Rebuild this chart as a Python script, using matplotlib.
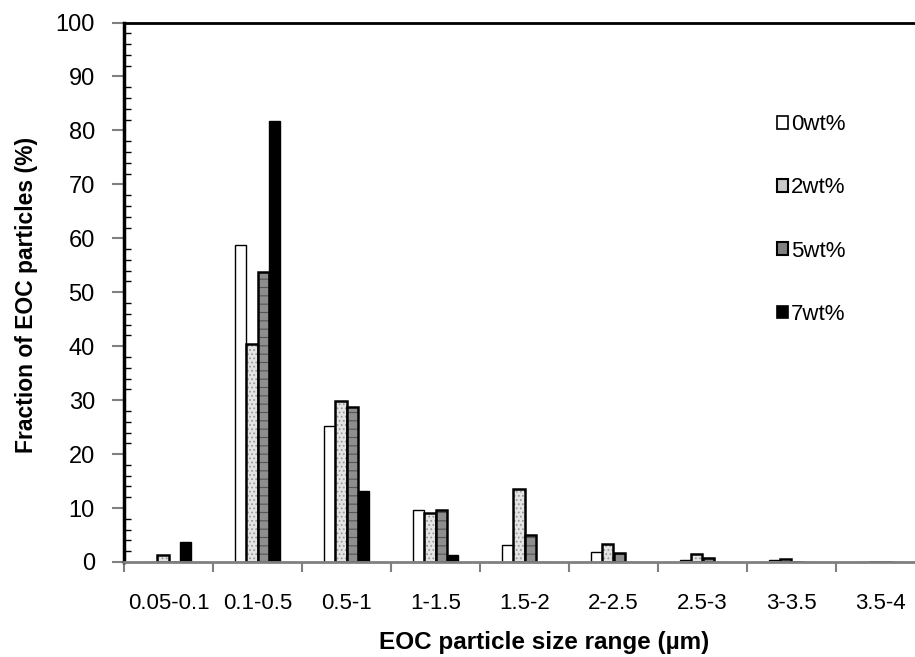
import numpy as np
import matplotlib
matplotlib.use("Agg")
import matplotlib.pyplot as plt
from matplotlib.ticker import MultipleLocator
from matplotlib.patches import Patch

plt.rcParams['font.family'] = ['Liberation Sans', 'DejaVu Sans']
plt.rcParams['hatch.linewidth'] = 0.8

categories = ['0.05-0.1', '0.1-0.5', '0.5-1', '1-1.5', '1.5-2',
              '2-2.5', '2.5-3', '3-3.5', '3.5-4']
series_names = ['0wt%', '2wt%', '5wt%', '7wt%']
wt0 = [0.0, 58.8, 25.3, 9.6, 3.1, 1.8, 0.3, 0.4, 0.0]
wt2 = [1.3, 40.4, 29.9, 9.1, 13.6, 3.3, 1.5, 0.6, 0.0]
wt5 = [0.0, 53.7, 28.8, 9.6, 5.0, 1.7, 0.7, 0.0, 0.0]
wt7 = [3.7, 81.7, 13.1, 1.3, 0.0, 0.0, 0.0, 0.0, 0.0]

fig = plt.figure(figsize=(9.15, 6.57), dpi=100)
# plot area runs past the right edge of the picture, like the original
ax = fig.add_axes([124 / 915, 1 - 562 / 657, 801 / 915, 539.5 / 657])

x = np.arange(len(categories))
w = 0.124
data = [wt0, wt2, wt5, wt7]
# fill, hatch, hatch colour, outline width
looks = [
    ('white', None, 'white', 1.0),
    ('#e4e4e4', '....', '#9a9a9a', 1.8),
    ('#8e8e8e', '--', '#555555', 1.8),
    ('black', None, 'black', 1.0),
]
for i, (vals, lk) in enumerate(zip(data, looks)):
    fc, hatch, hc, lw = lk
    off = (i - 1.5) * w
    ax.bar(x + off, vals, width=w, facecolor=fc, hatch=hatch,
           edgecolor=hc, linewidth=0)
    ax.bar(x + off, vals, width=w, fill=False, edgecolor='black', linewidth=lw)

ax.set_xlim(-0.5, len(categories) - 0.5)
ax.set_ylim(0, 100)
ax.set_xticks(x)
ax.set_xticklabels(categories, fontsize=16)
ax.tick_params(axis='x', length=0, pad=22)
ax.set_xticks(np.arange(-0.5, len(categories)), minor=True)
ax.tick_params(axis='x', which='minor', length=7, width=1.5, color='#808080', direction='out')

ax.yaxis.set_major_locator(MultipleLocator(10))
ax.yaxis.set_minor_locator(MultipleLocator(2))
ax.tick_params(axis='y', which='major', length=9, width=1.5, color='#808080',
               direction='out', labelsize=17, pad=12)
ax.tick_params(axis='y', which='minor', length=5, width=1.0, direction='in')

ax.spines['left'].set_linewidth(2.5)
ax.spines['top'].set_linewidth(2)
ax.spines['right'].set_linewidth(2)
ax.spines['bottom'].set_linewidth(2)
ax.spines['bottom'].set_color('#808080')

ax.set_xlabel('EOC particle size range (\u00b5m)', fontsize=17.5, fontweight='bold')
ax.xaxis.set_label_coords(0.524, -0.128)
ax.set_ylabel('Fraction of EOC particles (%)', fontsize=16.5, fontweight='bold')
ax.yaxis.set_label_coords(-0.107, 0.495)

handles = [Patch(facecolor=lk[0], edgecolor='black', linewidth=1.2) for lk in looks]
handles[1] = Patch(facecolor='#c8c8c8', edgecolor='black', linewidth=1.5)
handles[2] = Patch(facecolor='#808080', edgecolor='black', linewidth=1.5)
ax.legend(handles, series_names, loc='upper left', bbox_to_anchor=(0.815, 0.83),
          frameon=False, fontsize=16, handlelength=0.5, handleheight=0.5,
          handletextpad=0.15, labelspacing=1.9, borderaxespad=0, borderpad=0)

fig.savefig('out.png', dpi=100)
